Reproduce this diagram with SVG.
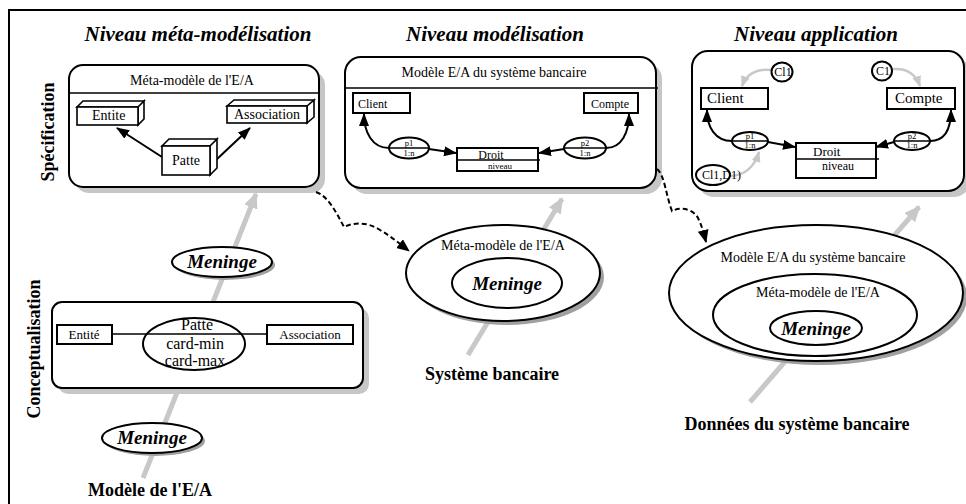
<svg xmlns="http://www.w3.org/2000/svg" width="966" height="504" viewBox="0 0 966 504">
  <defs>
    <marker id="ah" markerUnits="userSpaceOnUse" markerWidth="13" markerHeight="10" refX="12" refY="5" orient="auto">
      <path d="M0,0 L13,5 L0,10 z" fill="#000"/>
    </marker>
    <marker id="ahd" markerUnits="userSpaceOnUse" markerWidth="13" markerHeight="11" refX="12" refY="5.5" orient="auto">
      <path d="M0,0 L13,5.5 L0,11 z" fill="#000"/>
    </marker>
    <marker id="ahg" markerUnits="userSpaceOnUse" markerWidth="16" markerHeight="14" refX="14" refY="7" orient="auto">
      <path d="M0,0 L16,7 L0,14 z" fill="#c8c8c8"/>
    </marker>
    <marker id="ahgs" markerUnits="userSpaceOnUse" markerWidth="11" markerHeight="9" refX="10" refY="4.5" orient="auto">
      <path d="M0,0 L11,4.5 L0,9 z" fill="#c8c8c8"/>
    </marker>
  </defs>
  <style>
    .frame{fill:none;stroke:#000;stroke-width:2}
    .box{fill:#fff;stroke:#000;stroke-width:2}
    .shadow{fill:#c6c6c6}
    .eshadow{fill:#a0a0a0}
    .thin{fill:#fff;stroke:#000;stroke-width:1.6}
    .line{fill:none;stroke:#000;stroke-width:1.6}
    .t{font-family:"Liberation Serif","Times New Roman",serif;fill:#000}
    .c{text-anchor:middle}
    .title{font-size:21px;font-weight:bold;font-style:italic}
    .side{font-size:18px;font-weight:bold}
    .cap{font-size:18px;font-weight:bold}
    .men{font-size:19px;font-weight:bold;font-style:italic}
    .lvl{fill:none;stroke:#c8c8c8;stroke-width:5}
    .gsm{fill:none;stroke:#c8c8c8;stroke-width:2.5}
    .arc{fill:none;stroke:#000;stroke-width:2}
    .dash{fill:none;stroke:#000;stroke-width:2;stroke-dasharray:5 3}
  </style>

  <rect width="966" height="504" fill="#fff"/>
  <!-- outer frame: top and left edges only -->
  <path class="frame" d="M9,504 V10 H966"/>

  <!-- level titles -->
  <text class="t c title" x="198" y="41">Niveau méta-modélisation</text>
  <text class="t c title" x="495" y="41">Niveau modélisation</text>
  <text class="t c title" x="816" y="41">Niveau application</text>
  <text class="t c side" transform="translate(48,132) rotate(-90)" dominant-baseline="central">Spécification</text>
  <text class="t c side" transform="translate(34,349) rotate(-90)" dominant-baseline="central">Conceptualisation</text>

  <!-- wide grey level arrows, drawn behind the nodes -->
  <g id="level-arrows">
    <line class="lvl" x1="143" y1="478" x2="256" y2="194" marker-end="url(#ahg)"/>
    <line class="lvl" x1="468" y1="355" x2="562" y2="199" marker-end="url(#ahg)"/>
    <line class="lvl" x1="750" y1="402" x2="919" y2="207" marker-end="url(#ahg)"/>
  </g>

  <!-- meta-model box -->
  <g id="meta-model">
    <rect class="shadow" x="75" y="71" width="250" height="122" rx="14"/>
    <rect class="box" x="69" y="65" width="250" height="122" rx="14"/>
    <line class="line" x1="69" y1="93" x2="319" y2="93"/>
    <text class="t c" x="192" y="85" font-size="14">Méta-modèle de l'E/A</text>
  </g>

  <!-- E/A model of the banking system -->
  <g id="bank-model">
    <rect class="shadow" x="351" y="63" width="311" height="131" rx="16"/>
    <rect class="box" x="345" y="57" width="311" height="131" rx="16"/>
    <line class="line" x1="345" y1="88" x2="658" y2="88"/>
    <text class="t c" x="494" y="77" font-size="14">Modèle E/A du système bancaire</text>
  </g>

  <!-- application instance box -->
  <g id="bank-app">
    <rect class="shadow" x="698" y="57" width="272" height="140" rx="16"/>
    <rect class="box" x="692" y="51" width="272" height="140" rx="16"/>
  </g>

  <!-- conceptual E/A model -->
  <g id="concept">
    <rect class="shadow" x="58" y="308" width="311" height="86" rx="10"/>
    <rect class="box" x="52" y="302" width="311" height="86" rx="10"/>
  </g>

  <g id="meninge-1">
    <ellipse class="eshadow" cx="225" cy="265" rx="50" ry="15"/>
    <ellipse class="box" cx="222" cy="262" rx="50" ry="15"/>
    <text class="t c men" x="222" y="268">Meninge</text>
  </g>
  <g id="meninge-2">
    <ellipse class="eshadow" cx="155" cy="441" rx="50" ry="15"/>
    <ellipse class="box" cx="152" cy="438" rx="50" ry="15"/>
    <text class="t c men" x="152" y="444">Meninge</text>
  </g>
  <text class="t c cap" x="150" y="496">Modèle de l'E/A</text>

  <g id="bank-system">
    <ellipse class="eshadow" cx="507" cy="277" rx="97" ry="48"/>
    <ellipse class="box" cx="503" cy="273" rx="97" ry="48"/>
    <text class="t c" x="503" y="250" font-size="14">Méta-modèle de l'E/A</text>
    <ellipse class="box" cx="507" cy="283" rx="55" ry="25"/>
    <text class="t c men" x="507" y="290">Meninge</text>
  </g>
  <text class="t c cap" x="492" y="380">Système bancaire</text>

  <g id="bank-data">
    <ellipse class="eshadow" cx="820" cy="297" rx="147" ry="68"/>
    <ellipse class="box" cx="816" cy="293" rx="147" ry="68"/>
    <text class="t c" x="813" y="262" font-size="14">Modèle E/A du système bancaire</text>
    <ellipse class="box" cx="815" cy="315" rx="102" ry="41"/>
    <text class="t c" x="818" y="297" font-size="14">Méta-modèle de l'E/A</text>
    <ellipse class="box" cx="816" cy="328" rx="46" ry="17"/>
    <text class="t c men" x="816" y="335">Meninge</text>
  </g>
  <text class="t c cap" x="797" y="430">Données du système bancaire</text>

  <!-- links between elements -->
  <g id="connectors">
    <!-- meta-model -->
    <line class="arc" x1="162" y1="157" x2="117" y2="128" marker-end="url(#ah)"/>
    <line class="arc" x1="216" y1="160" x2="250" y2="128" marker-end="url(#ah)"/>
    <!-- bank model -->
    <path class="arc" d="M389,148 C372,148 364,132 364,114" marker-end="url(#ah)"/>
    <line class="arc" x1="429" y1="149" x2="456" y2="153" marker-end="url(#ah)"/>
    <line class="arc" x1="564" y1="149" x2="539" y2="153" marker-end="url(#ah)"/>
    <path class="arc" d="M606,148 C622,148 629,132 629,114" marker-end="url(#ah)"/>
    <!-- bank application -->
    <path class="arc" d="M732,141 C715,141 707,127 707,110" marker-end="url(#ah)"/>
    <line class="arc" x1="768" y1="142" x2="795" y2="147" marker-end="url(#ah)"/>
    <line class="arc" x1="894" y1="142" x2="876" y2="147" marker-end="url(#ah)"/>
    <path class="arc" d="M930,141 C946,141 951,127 951,110" marker-end="url(#ah)"/>
    <path class="gsm" d="M771,70 C756,68 746,75 742,86" marker-end="url(#ahgs)"/>
    <path class="gsm" d="M893,69 C907,68 916,75 920,86" marker-end="url(#ahgs)"/>
    <path class="gsm" d="M731,176 C746,175 755,165 759,152" marker-end="url(#ahgs)"/>
    <!-- level instantiation -->
    <path class="dash" d="M316,192 C328,196 336,212 344,227 C354,222 368,222 380,230 C392,237 400,244 409,251" marker-end="url(#ahd)"/>
    <path class="dash" d="M657,169 C665,176 666,196 672,211 C682,206 694,210 698,218 C702,226 704,234 706,242" marker-end="url(#ahd)"/>
  </g>

  <!-- meta-model contents -->
  <g id="entite">
    <path class="thin" d="M77,107 L83,101 H144 L138,107 Z M138,107 L144,101 V119 L138,125 Z"/>
    <rect class="thin" x="77" y="107" width="61" height="18"/>
    <text class="t" x="92" y="120" font-size="14">Entite</text>
  </g>
  <g id="association">
    <path class="thin" d="M227,106 L234,100 H314 L307,106 Z M307,106 L314,100 V117 L307,123 Z"/>
    <rect class="thin" x="227" y="106" width="80" height="17"/>
    <text class="t" x="234" y="119" font-size="14">Association</text>
  </g>
  <g id="patte">
    <path class="thin" d="M162,146 L169,139 H217 L210,146 Z M210,146 L217,139 V168 L210,175 Z"/>
    <rect class="thin" x="162" y="146" width="48" height="29"/>
    <text class="t" x="172" y="165" font-size="14">Patte</text>
  </g>

  <!-- bank model contents -->
  <g id="m-client">
    <rect class="box" x="353" y="93" width="57" height="20"/>
    <text class="t" x="358" y="108" font-size="12">Client</text>
  </g>
  <g id="m-compte">
    <rect class="box" x="584" y="93" width="54" height="20"/>
    <text class="t" x="591" y="108" font-size="12">Compte</text>
  </g>
  <g id="m-p1">
    <ellipse class="box" cx="409" cy="148" rx="20" ry="10.5"/>
    <line class="line" x1="389" y1="148" x2="429" y2="148"/>
    <text class="t c" x="409" y="146" font-size="8.5">p1</text>
    <text class="t c" x="409" y="156" font-size="8.5">1:n</text>
  </g>
  <g id="m-p2">
    <ellipse class="box" cx="585" cy="148" rx="21" ry="10.5"/>
    <line class="line" x1="564" y1="148" x2="606" y2="148"/>
    <text class="t c" x="585" y="146" font-size="8.5">p2</text>
    <text class="t c" x="585" y="156" font-size="8.5">1:n</text>
  </g>
  <g id="m-droit">
    <rect class="box" x="457" y="148" width="81" height="23"/>
    <line class="line" x1="457" y1="160" x2="540" y2="160"/>
    <text class="t c" x="491" y="159" font-size="12">Droit</text>
    <text class="t c" x="500" y="169" font-size="9">niveau</text>
  </g>

  <!-- bank application contents -->
  <g id="a-client">
    <rect class="box" x="701" y="88" width="67" height="21"/>
    <text class="t" x="707" y="103" font-size="15">Client</text>
  </g>
  <g id="a-compte">
    <rect class="box" x="887" y="88" width="68" height="21"/>
    <text class="t" x="895" y="103" font-size="15">Compte</text>
  </g>
  <g id="a-cl1">
    <ellipse class="box" cx="782" cy="72" rx="10.5" ry="9.5"/>
    <text class="t c" x="783" y="76" font-size="12">Cl1</text>
  </g>
  <g id="a-c1">
    <ellipse class="box" cx="882" cy="71" rx="10" ry="9.5"/>
    <text class="t c" x="883" y="75" font-size="12">C1</text>
  </g>
  <g id="a-cl1d1">
    <ellipse class="box" cx="713" cy="175" rx="17" ry="10"/>
    <text class="t" x="702" y="179" font-size="12">Cl1,D1)</text>
  </g>
  <g id="a-p1">
    <ellipse class="box" cx="750" cy="141" rx="18" ry="9"/>
    <line class="line" x1="732" y1="141" x2="768" y2="141"/>
    <text class="t c" x="750" y="139" font-size="8.5">p1</text>
    <text class="t c" x="750" y="148" font-size="8.5">1:n</text>
  </g>
  <g id="a-p2">
    <ellipse class="box" cx="912" cy="141" rx="18" ry="9"/>
    <line class="line" x1="894" y1="141" x2="930" y2="141"/>
    <text class="t c" x="912" y="139" font-size="8.5">p2</text>
    <text class="t c" x="912" y="148" font-size="8.5">1:n</text>
  </g>
  <g id="a-droit">
    <rect class="box" x="796" y="143" width="80" height="35"/>
    <line class="line" x1="796" y1="159" x2="879" y2="159"/>
    <text class="t" x="813" y="156" font-size="13">Droit</text>
    <text class="t" x="822" y="170" font-size="12">niveau</text>
  </g>

  <!-- conceptual model contents -->
  <g id="c-entite">
    <rect class="box" x="57" y="325" width="55" height="19"/>
    <text class="t c" x="84" y="339" font-size="13">Entité</text>
  </g>
  <g id="c-association">
    <rect class="box" x="267" y="325" width="86" height="19"/>
    <text class="t c" x="310" y="339" font-size="13">Association</text>
  </g>
  <g id="c-patte">
    <ellipse class="box" cx="194" cy="344" rx="51" ry="26"/>
    <line class="line" x1="112" y1="334" x2="267" y2="334"/>
    <text class="t c" x="197" y="330" font-size="16">Patte</text>
    <text class="t c" x="195" y="349" font-size="16">card-min</text>
    <text class="t c" x="195" y="366" font-size="16">card-max</text>
  </g>
</svg>
